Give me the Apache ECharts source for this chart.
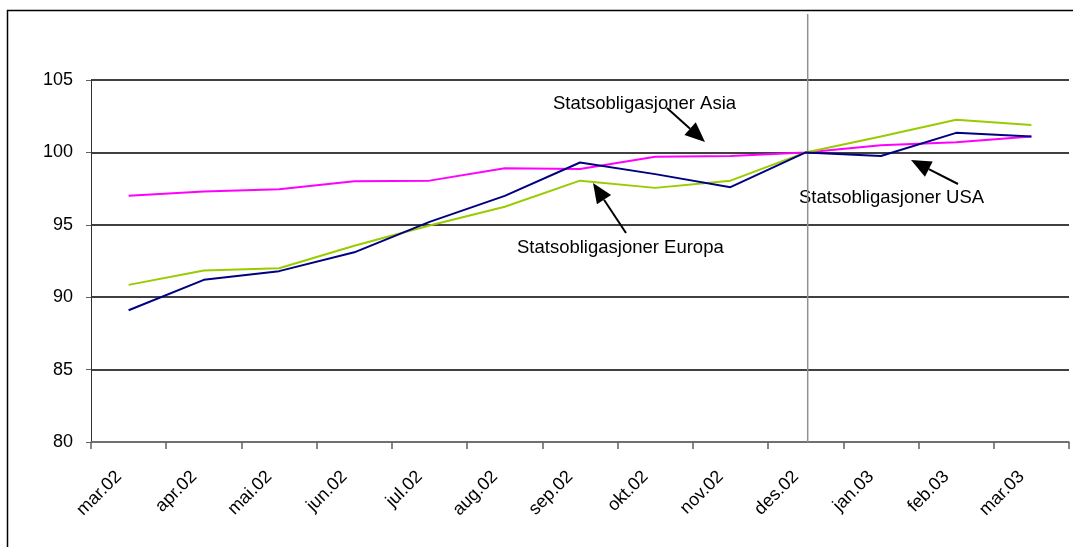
<!DOCTYPE html>
<html>
<head>
<meta charset="utf-8">
<script src="https://cdn.jsdelivr.net/npm/echarts@6/dist/echarts.min.js"></script>
<style>
  html, body { margin: 0; padding: 0; background: #fff; }
  #chart { width: 1073px; height: 547px; }
</style>
</head>
<body>
<div id="chart"></div>
<script>
// Monthly index values, des.02 = 100
const months = ['mar.02', 'apr.02', 'mai.02', 'jun.02', 'jul.02', 'aug.02', 'sep.02',
                'okt.02', 'nov.02', 'des.02', 'jan.03', 'feb.03', 'mar.03'];
const usa    = [89.1, 91.2, 91.8, 93.1, 95.2, 97.0, 99.3, 98.5, 97.6, 100, 99.75, 101.35, 101.1];
const europa = [90.85, 91.85, 92.0, 93.55, 94.95, 96.25, 98.05, 97.55, 98.05, 100, 101.1, 102.25, 101.9];
const asia   = [97.0, 97.3, 97.45, 98.0, 98.05, 98.9, 98.85, 99.7, 99.75, 100, 100.5, 100.7, 101.1];
const yTicks = { min: 80, max: 105, step: 5 };
const baseMonth = 'des.02';

const FONT = '"Liberation Sans", Arial, sans-serif';
const chart = echarts.init(document.getElementById('chart'));

// Arrow from a label towards a line: shaft plus filled triangular head
function arrow(id, x1, y1, x2, y2) {
  const dx = x2 - x1, dy = y2 - y1;
  const len = Math.sqrt(dx * dx + dy * dy);
  const ux = dx / len, uy = dy / len;
  const headLen = 20, headHalf = 8.5;
  const bx = x2 - ux * headLen, by = y2 - uy * headLen;
  return [
    { id: id + '-shaft', type: 'line', silent: true,
      shape: { x1: x1, y1: y1, x2: bx, y2: by },
      style: { stroke: '#000', lineWidth: 2 } },
    { id: id + '-head', type: 'polygon', silent: true,
      shape: { points: [[x2, y2], [bx - uy * headHalf, by + ux * headHalf], [bx + uy * headHalf, by - ux * headHalf]] },
      style: { fill: '#000' } }
  ];
}

function note(id, text, x, y) {
  return { id: id, type: 'text', silent: true, x: x, y: y,
    style: { text: text, fill: '#000', font: '18.5px ' + FONT, align: 'left', verticalAlign: 'middle' } };
}

const series = [
  { name: 'Statsobligasjoner Asia', data: asia, color: '#FF00FF' },
  { name: 'Statsobligasjoner Europa', data: europa, color: '#99CC00' },
  { name: 'Statsobligasjoner USA', data: usa, color: '#000080' }
].map(s => ({
  name: s.name, type: 'line', data: s.data, symbol: 'none', z: 3,
  lineStyle: { color: s.color, width: 2 }, itemStyle: { color: s.color }
}));

chart.setOption({
  animation: false,
  backgroundColor: '#fff',
  grid: { left: 91, right: 4, top: 80, bottom: 105 },
  xAxis: {
    type: 'category', data: months, boundaryGap: true,
    axisLine: { lineStyle: { color: '#808080', width: 1.5 } },
    axisTick: { show: true, length: 7, alignWithLabel: false, lineStyle: { color: '#606060', width: 1.5 } },
    axisLabel: { rotate: 45, margin: 22, padding: [0, 14, 0, 0], color: '#000', fontSize: 18, fontFamily: FONT, interval: 0 },
    splitLine: { show: false }
  },
  yAxis: {
    type: 'value', min: yTicks.min, max: yTicks.max, interval: yTicks.step,
    axisLine: { show: true, lineStyle: { color: '#303030', width: 1 } },
    axisTick: { show: true, length: 5, lineStyle: { color: '#606060' } },
    axisLabel: { margin: 18, color: '#000', fontSize: 18, fontFamily: FONT },
    splitLine: { show: true, lineStyle: { color: '#000', width: 1.5 } }
  },
  series: series
});

// Vertical marker at the base month, reaching above the plot area
const mx = chart.convertToPixel({ xAxisIndex: 0 }, baseMonth) + 2;
const my = chart.convertToPixel({ yAxisIndex: 0 }, yTicks.min);

chart.setOption({
  graphic: [
    { id: 'frame', type: 'rect', silent: true, shape: { x: 7.5, y: 10.5, width: 1100, height: 600 },
      style: { fill: 'none', stroke: '#000', lineWidth: 1.5 } },
    { id: 'base-marker', type: 'line', silent: true, z: 2,
      shape: { x1: mx, y1: 14, x2: mx, y2: my },
      style: { stroke: '#909090', lineWidth: 1.5 } },
    note('note-asia', 'Statsobligasjoner Asia', 553, 103.5),
    note('note-europa', 'Statsobligasjoner Europa', 517, 247.5),
    note('note-usa', 'Statsobligasjoner USA', 799, 198),
    ...arrow('arrow-asia', 667, 108, 705, 142),
    ...arrow('arrow-europa', 626, 233, 593, 183),
    ...arrow('arrow-usa', 958, 184, 911, 160)
  ]
});
</script>
</body>
</html>
